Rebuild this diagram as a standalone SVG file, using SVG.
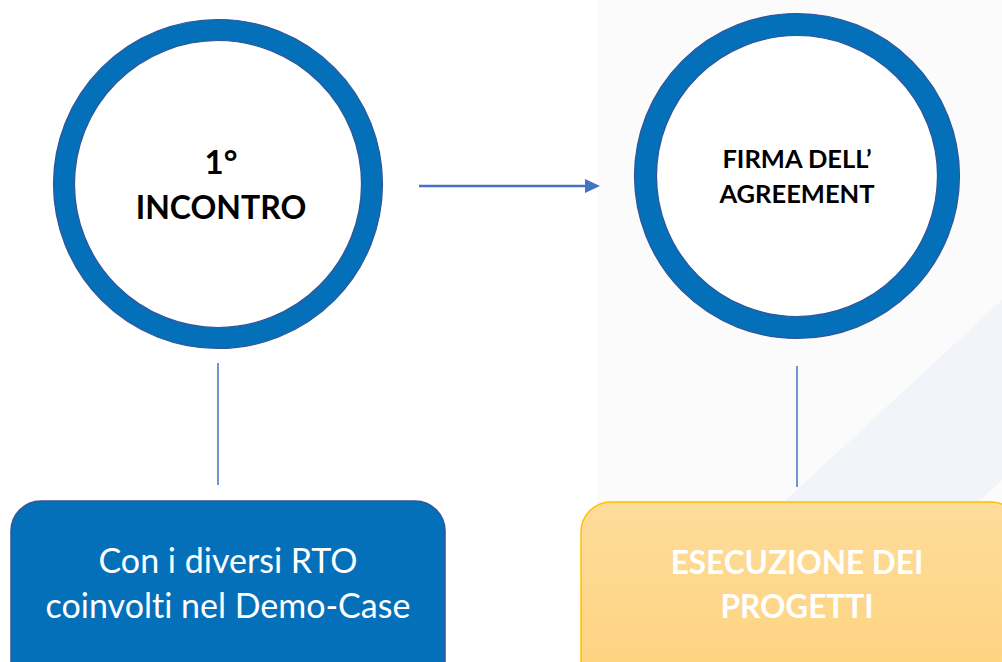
<svg xmlns="http://www.w3.org/2000/svg" width="1002" height="662" viewBox="0 0 1002 662">
  <defs>
    <linearGradient id="gold" x1="0" y1="0" x2="0" y2="1">
      <stop offset="0" stop-color="#FDDC9A"/>
      <stop offset="1" stop-color="#FFD27C"/>
    </linearGradient>
    <style>
      text { font-variant-ligatures: none; font-feature-settings: "liga" 0, "clig" 0; }
      .ring { fill: #FFFFFF; stroke: #0470BA; }
      .ringEdge { fill: none; stroke: #2F5597; stroke-width: 1.2; }
      .title { font-family: Lato, "Liberation Sans", sans-serif; font-weight: bold; fill: #000000; text-anchor: middle; }
      .conn { stroke: #4472C4; fill: none; }
      .boxText { font-family: Lato, "Liberation Sans", sans-serif; fill: #FFFFFF; text-anchor: middle; }
    </style>
  </defs>
  <rect x="0" y="0" width="1002" height="662" fill="#FFFFFF"/>
  <rect x="597" y="0" width="405" height="662" fill="#FBFBFC"/>
  <polygon points="1002,300 1002,480 805,662 611,662" fill="#F1F4F8"/>

  <g id="connectors">
    <line class="conn" x1="419" y1="186" x2="587" y2="186" stroke-width="2.5"/>
    <polygon points="585,179 600,186 585,193" fill="#4472C4"/>
    <line class="conn" x1="218" y1="363" x2="218" y2="485" stroke-width="1.5"/>
    <line class="conn" x1="797" y1="366" x2="797" y2="487" stroke-width="1.5"/>
  </g>

  <g id="node-incontro">
    <circle class="ring" cx="218" cy="184" r="154" stroke-width="21"/>
    <circle class="ringEdge" cx="218" cy="184" r="164.5"/>
    <circle class="ringEdge" cx="218" cy="184" r="143.5"/>
    <text class="title" x="221" y="174" font-size="33">1°</text>
    <text class="title" x="221" y="219" font-size="32">INCONTRO</text>
  </g>

  <g id="node-firma">
    <circle class="ring" cx="797" cy="176" r="151.5" stroke-width="22"/>
    <circle class="ringEdge" cx="797" cy="176" r="162.5"/>
    <circle class="ringEdge" cx="797" cy="176" r="140.5"/>
    <text class="title" x="797" y="168" font-size="25.5">FIRMA DELL’</text>
    <text class="title" x="797" y="203" font-size="25.5">AGREEMENT</text>
  </g>

  <g id="node-rto">
    <rect x="11" y="501" width="434" height="200" rx="30" ry="30" fill="#0470BA" stroke="#2F5597" stroke-width="1.5"/>
    <text class="boxText" x="228" y="573" font-size="34">Con i diversi RTO</text>
    <text class="boxText" x="228" y="618" font-size="34">coinvolti nel Demo-Case</text>
  </g>

  <g id="node-esecuzione">
    <rect x="581" y="502" width="440" height="200" rx="30" ry="30" fill="url(#gold)" stroke="#FFC000" stroke-width="1.5"/>
    <text class="boxText" x="797" y="574" font-size="31.5" font-weight="bold">ESECUZIONE DEI</text>
    <text class="boxText" x="797" y="618" font-size="31.5" font-weight="bold">PROGETTI</text>
  </g>
</svg>
